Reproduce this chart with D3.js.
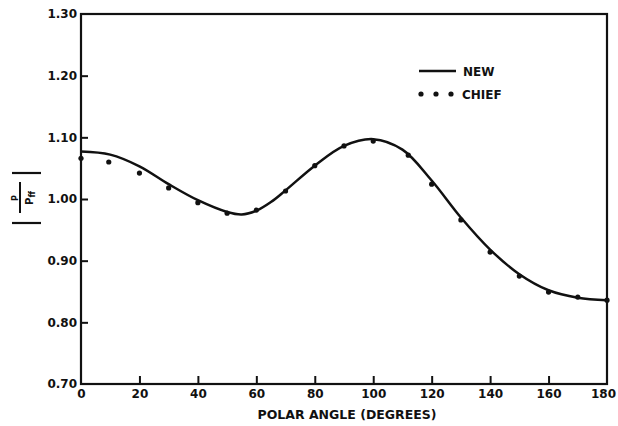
<!DOCTYPE html>
<html>
<head>
<meta charset="utf-8">
<script src="https://cdn.jsdelivr.net/npm/d3@7"></script>
<style>
  body { margin: 0; background: #fff; }
  svg { display: block; }
  text { font-family: "DejaVu Sans", sans-serif; font-weight: bold; fill: #111; }
</style>
</head>
<body>
<svg id="chart" width="618" height="426"></svg>
<script>
// ---- data ----
const newAngles = [0, 10, 20, 30, 40, 50, 55, 60, 65, 70, 80, 90, 100, 110, 120, 130, 140, 150, 160, 170, 180];
const newValues = [1.077, 1.072, 1.053, 1.024, 0.998, 0.979, 0.975, 0.981, 0.995, 1.014, 1.054, 1.086, 1.097, 1.080, 1.030, 0.970, 0.918, 0.878, 0.852, 0.840, 0.836];
const chiefAngles = [0, 9.5, 20, 30, 40, 50, 60, 70, 80, 90, 100, 112, 120, 130, 140, 150, 160, 170, 180];
const chiefValues = [1.066, 1.060, 1.042, 1.018, 0.994, 0.977, 0.982, 1.013, 1.054, 1.086, 1.094, 1.071, 1.024, 0.966, 0.914, 0.875, 0.849, 0.841, 0.836];
const xTicks = [0, 20, 40, 60, 80, 100, 120, 140, 160, 180];
const yTicks = [0.70, 0.80, 0.90, 1.00, 1.10, 1.20, 1.30];
const legendLabels = ["NEW", "CHIEF"];
const xTitle = "POLAR ANGLE (DEGREES)";

// ---- layout ----
const svg = d3.select("#chart");
const L = 81, R = 607, T = 14, B = 384;
const x = d3.scaleLinear().domain([0, 180]).range([L, R]);
const y = d3.scaleLinear().domain([0.70, 1.30]).range([B, T]);

// frame
svg.append("rect").attr("x", L).attr("y", T).attr("width", R - L).attr("height", B - T)
  .attr("fill", "none").attr("stroke", "#111").attr("stroke-width", 2.2);

// axes
const xAxis = d3.axisBottom(x).tickValues(xTicks).tickFormat(d3.format("d"))
  .tickSizeInner(-8).tickSizeOuter(0).tickPadding(5);
const gx = svg.append("g").attr("transform", `translate(0,${B})`).call(xAxis);
gx.select(".domain").remove();
gx.selectAll(".tick line").attr("stroke", "#111").attr("stroke-width", 2)
  .filter(d => d === 0 || d === 180).remove();
gx.selectAll(".tick text").attr("font-size", 12).attr("font-family", "DejaVu Sans").attr("font-weight", "bold")
  .attr("dx", d => d === 180 ? -4 : 0);

const yAxis = d3.axisLeft(y).tickValues(yTicks).tickFormat(d3.format(".2f"))
  .tickSizeInner(-7).tickSizeOuter(0).tickPadding(4);
const gy = svg.append("g").attr("transform", `translate(${L},0)`).call(yAxis);
gy.select(".domain").remove();
gy.selectAll(".tick line").attr("stroke", "#111").attr("stroke-width", 2)
  .filter(d => d === 0.70 || d === 1.30).remove();
gy.selectAll(".tick text").attr("font-size", 12).attr("font-family", "DejaVu Sans").attr("font-weight", "bold");

// x title
svg.append("text").attr("x", (L + R) / 2 + 3).attr("y", 419).attr("text-anchor", "middle")
  .attr("font-size", 12.5).text(xTitle);

// y title |P / P_ff|
const yt = svg.append("g").attr("transform", "translate(27,198) rotate(-90)");
yt.append("line").attr("x1", -25).attr("x2", -25).attr("y1", -15).attr("y2", 14).attr("stroke", "#111").attr("stroke-width", 2.2);
yt.append("line").attr("x1", 25).attr("x2", 25).attr("y1", -15).attr("y2", 14).attr("stroke", "#111").attr("stroke-width", 2.2);
yt.append("line").attr("x1", -15).attr("x2", 16).attr("y1", -7).attr("y2", -7).attr("stroke", "#111").attr("stroke-width", 2);
yt.append("text").attr("x", 0).attr("y", -9).attr("text-anchor", "middle").attr("font-size", 8).text("P");
const den = yt.append("text").attr("x", 0).attr("y", 6).attr("text-anchor", "middle").attr("font-size", 10);
den.append("tspan").text("P");
den.append("tspan").attr("font-size", 8).attr("dy", 2).text("ff");

// curve
const line = d3.line().x((d, i) => x(newAngles[i])).y(d => y(d)).curve(d3.curveCatmullRom.alpha(0.5));
svg.append("path").datum(newValues).attr("d", line).attr("fill", "none")
  .attr("stroke", "#111").attr("stroke-width", 2.5);

// dots
svg.append("g").selectAll("circle").data(chiefValues).join("circle")
  .attr("cx", (d, i) => x(chiefAngles[i])).attr("cy", d => y(d)).attr("r", 2.6).attr("fill", "#111");

// legend
const lg = svg.append("g");
lg.append("line").attr("x1", 419).attr("x2", 456).attr("y1", 71).attr("y2", 71).attr("stroke", "#111").attr("stroke-width", 2.5);
lg.append("text").attr("x", 463).attr("y", 75.5).attr("font-size", 12).text(legendLabels[0]);
lg.selectAll("circle").data([421, 436, 451]).join("circle")
  .attr("cx", d => d).attr("cy", 94).attr("r", 2.6).attr("fill", "#111");
lg.append("text").attr("x", 462).attr("y", 98.5).attr("font-size", 12).text(legendLabels[1]);
</script>
</body>
</html>
